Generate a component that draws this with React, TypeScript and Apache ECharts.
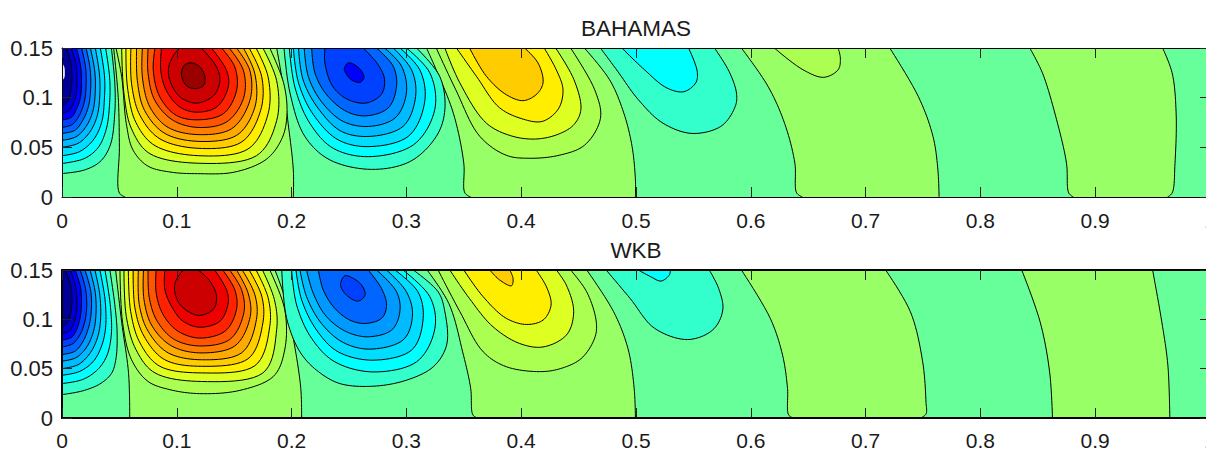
import React, { useEffect, useRef } from "react";
import * as echarts from "echarts";

type Pt = number[];
// All curve points are in thousandths of an axis unit: [x*1000, y*1000]

const xTicks = [0, 0.1, 0.2, 0.3, 0.4, 0.5, 0.6, 0.7, 0.8, 0.9, 1];
const yTicks = [0, 0.05, 0.1, 0.15];
const panelTitles = ["BAHAMAS", "WKB"];

const baseBackground = "#66ff99";
const baseBand = "#99ff66";
const positiveLevels = ["#aaff50", "#ddff22", "#ffee00", "#ffcc00", "#ffaa00", "#ff8000", "#ff5500", "#ff2200", "#ee0000", "#cc0000", "#990000"];
const negativeLevels = ["#33ffcc", "#00ffff", "#00ddff", "#00bbff", "#0099ff", "#0066ff", "#0040ff", "#0000ff", "#0000cc", "#000099"];

// ---------- BAHAMAS ----------
const bZero: Pt[][] = [
  [[55, 0], [50, 4], [50, 50], [49, 100], [45, 150]],
  [[201.5, 0], [201.5, 27], [197, 74], [192.8, 111], [187, 150]],
  [[356, 0], [351, 4], [350, 34], [341, 84], [326, 128], [317.5, 150]],
  [[499.5, 0], [499.5, 17], [496.6, 50.7], [489.4, 84.4], [477, 118], [455, 150]],
  [[645, 0], [640, 4], [638.4, 34], [629.5, 74], [615, 111.4], [591.8, 150]],
  [[764, 0], [763, 27], [758.7, 61], [746, 101], [721, 150]],
  [[881, 0], [877, 4], [875, 34], [866.4, 77.7], [854, 125], [843, 150]],
  [[963, 0], [967, 4], [969.5, 34], [970.5, 84.4], [967, 125], [958.7, 150]],
];
const bLeft: Pt[][] = [
  [[0, 23.6], [19, 27], [33, 35.4], [42, 52], [46, 85], [46, 115], [43, 150]],
  [[0, 33.7], [19, 38.5], [31, 49], [38.5, 68], [41.5, 95], [41.5, 120], [38, 150]],
  [[0, 41.5], [15, 45.5], [27, 57], [34.5, 75], [37, 100], [37, 122], [33.4, 150]],
  [[0, 50], [14, 54], [24, 65], [30.5, 81], [33, 104], [32.5, 125], [29, 150]],
  [[0, 57], [12, 60.5], [21, 71], [27, 87], [29, 107], [28.5, 127], [24.7, 150]],
  [[0, 64], [11, 67], [18, 77], [23, 91], [25, 110], [24.5, 129], [21, 150]],
  [[0, 70], [9, 73], [15, 82], [19.5, 96], [21, 113], [20.5, 131], [17, 150]],
  [[0, 77.6], [8, 80], [12.5, 88], [16, 100], [17, 116], [16, 133], [12.5, 150]],
  [[0, 84], [6, 87], [10, 94], [12.5, 105], [13, 120], [12, 135], [8, 150]],
  [[0, 92], [4, 95], [7, 103], [8.5, 115], [8.5, 127], [7, 138], [3.8, 150]],
];
const bRed: Pt[][] = [
  [[47, 150], [52, 121], [56, 74], [62, 47], [75, 31], [95, 25], [118, 23.5], [150, 25], [178, 38], [192, 60], [196, 85], [193, 115], [181, 150]],
  [[52, 150], [54, 104], [60.6, 68.5], [76.6, 43.6], [118.6, 34], [169.4, 41.6], [187, 77], [187, 117], [175, 150]],
  [[55.7, 150], [57, 110.7], [64.4, 75], [81, 51.7], [118.6, 41.6], [162, 48.3], [179.5, 83.7], [179.5, 121], [169, 150]],
  [[60, 150], [60.6, 114], [68, 82], [85.3, 58.5], [118.6, 49], [156, 55], [173, 87], [174, 121], [163, 150]],
  [[65, 150], [65.6, 117.4], [72, 87], [89.6, 64], [118.6, 56], [152, 62], [168, 90.5], [168, 124], [158, 150]],
  [[70, 150], [70, 120.8], [76.6, 90.5], [92.5, 70], [118.6, 62.8], [147.6, 68.6], [163.6, 97], [163.6, 127.5], [152, 150]],
  [[75, 150], [75, 124], [81, 97], [97, 77], [118.6, 70], [143, 75.3], [158, 99], [158, 127.5], [145.6, 150]],
  [[81, 150], [79.5, 127.5], [85.3, 100.6], [99.8, 82], [118.6, 77.7], [140.4, 83.7], [152, 107], [150.5, 131], [139, 150]],
  [[86.7, 150], [86, 127.5], [91, 107], [102.7, 90.5], [117, 85.4], [134.6, 90.5], [144.8, 110.7], [143.3, 127.5], [130.2, 150]],
  [[102.7, 150], [98, 144], [93, 131], [94, 117], [103, 100.6], [117, 94.5], [132, 102], [137.5, 117], [134.6, 131], [121.5, 150]],
];
const bRedCore: Pt[] = [[104, 124], [107, 133], [113, 135], [120, 131], [124.5, 121], [123, 112], [116, 109], [108.5, 112]];
const bBlue: Pt[][] = [
  [[193.4, 150], [198.6, 104.7], [211.6, 60.9], [233.4, 37.3], [269.6, 27.8], [303, 35.6], [326, 60.9], [333.5, 87.8], [329, 121.5], [308.8, 150]],
  [[198, 150], [203, 110], [216, 74], [236.3, 49], [266.7, 40.6], [306, 52.4], [324.7, 88], [320.4, 125], [300, 150]],
  [[201.5, 150], [206, 115], [219, 82.8], [240.6, 57.5], [266.7, 50.7], [301.5, 60.9], [316, 96.2], [311.7, 128], [294.3, 150]],
  [[206, 150], [210, 118], [223, 89.5], [243.5, 66], [268, 61], [297, 71], [308, 101], [304.5, 128], [288.5, 150]],
  [[211, 150], [214.5, 121.5], [226, 96], [245, 76], [267, 71], [290, 79.4], [300, 104.7], [295.8, 131.6], [281, 150]],
  [[217.5, 150], [220.3, 125], [230.5, 103], [248, 86], [265, 81.7], [284, 89.5], [291.4, 111.4], [288.5, 131.6], [274, 150]],
  [[229, 150], [229, 135], [236, 111], [249.3, 98], [265, 94.6], [278, 103], [281, 118], [275.5, 133], [262.4, 150]],
];
const bBlueCore: Pt[] = [[245.9, 129], [249.3, 135], [255, 133], [261, 126.6], [263, 120], [259.5, 115.4], [252, 118], [247, 125]];
const bYellow: Pt[][] = [
  [[326, 150], [343, 108], [364, 61], [387, 42], [407, 39], [433, 42], [455, 52], [469, 79], [464, 108], [443, 150]],
  [[333.5, 150], [346.5, 115], [370, 74], [393, 61], [414.6, 58.5], [434, 64], [446, 73], [452, 88], [446, 118], [430, 150]],
  [[343.6, 150], [361, 121.5], [381, 90], [400, 79], [418, 76], [432, 88], [436.4, 108], [430.6, 128], [420, 150]],
  [[355, 150], [369.7, 121.5], [387, 103], [401.6, 97], [413, 103], [419, 114.8], [414.6, 135], [403, 150]],
];
const bCyan: Pt[][] = [
  [[469, 150], [484, 126.6], [502, 98], [523.5, 74.3], [548.7, 64], [573.8, 71], [586.4, 91], [587.5, 104.7], [581, 126.6], [568.4, 150]],
  [[487.7, 150], [505.6, 130], [527, 109.7], [541.5, 106], [552, 114.8], [553.3, 126.6], [545.8, 150]],
];
const bSmall: Pt[][] = [[[620.5, 150], [645.6, 128], [663.5, 120.5], [676, 128], [678, 140], [676, 150]]];
const bEdgeMark: Pt[] = [[0, 135], [2, 131], [2.5, 125], [2, 120], [0, 117]];

// ---------- WKB ----------
const wZero: Pt[][] = [
  [[59, 0], [58, 45], [52, 97], [46.7, 150]],
  [[208.7, 0], [208, 30], [201.5, 80.6], [194.3, 121], [185.5, 150]],
  [[362, 0], [358, 3], [356, 30], [349, 67], [337, 116], [318, 150]],
  [[499.5, 0], [498.4, 30], [493, 70.4], [480.5, 107.7], [457.1, 150]],
  [[637, 0], [633, 3], [632, 30], [627.7, 63.6], [617, 100.9], [591.8, 150]],
  [[748, 0], [752.6, 4], [752.6, 16], [749.7, 57], [739, 107.7], [717.4, 150]],
  [[862.8, 0], [860.3, 46.7], [852, 97.5], [836, 150]],
  [[965, 0], [963.3, 53.5], [958, 97.5], [950, 150]],
];
const wLeft: Pt[][] = [
  [[0, 23.7], [18, 27.5], [33, 34.5], [43, 45], [47, 60], [48, 87], [46, 115], [41.7, 150]],
  [[0, 34.9], [18, 39], [31, 49], [39, 63], [43, 85], [42, 115], [37.4, 150]],
  [[0, 43.3], [15, 47], [27, 57], [34.5, 73], [38, 92], [37.5, 120], [33, 150]],
  [[0, 50], [14, 54], [24, 65], [30.5, 80], [33.5, 98], [33, 124], [28.7, 150]],
  [[0, 57.6], [12, 61], [21, 71], [27, 86], [29.5, 103], [29, 127], [24.4, 150]],
  [[0, 64.3], [11, 67.5], [18, 77], [23, 91], [25.5, 108], [25, 129], [20, 150]],
  [[0, 72], [9, 75], [15, 83], [19.5, 96], [21.5, 112], [20.5, 131], [15.8, 150]],
  [[0, 79], [8, 81.5], [12.5, 89], [15.5, 100], [17, 116], [16, 133], [11.5, 150]],
  [[0, 85.7], [6, 88], [10, 95], [12.5, 106], [13, 120], [11.5, 135], [7.2, 150]],
  [[0, 93.4], [4, 96], [7, 104], [8.5, 115], [8.5, 127], [6.5, 138], [3, 150]],
];
const wRed: Pt[][] = [
  [[50.5, 150], [52.8, 96.5], [60.6, 59], [75, 37], [94, 28.7], [120, 24.7], [155, 28], [184, 42], [194, 69], [194, 110], [181, 150]],
  [[54, 150], [56, 103], [64.4, 69.4], [81, 45.7], [121.5, 37], [175, 45.7], [187, 89.7], [185, 120], [174.6, 150]],
  [[57.8, 150], [59.8, 108], [68, 76], [85.3, 52.4], [121.5, 45.7], [168, 53], [181, 93], [179.5, 122], [169, 150]],
  [[62, 150], [63.5, 111.7], [71.4, 83], [89.6, 59], [121.5, 52.4], [162, 60], [175, 96.5], [174, 123.5], [163, 150]],
  [[66.5, 150], [67.3, 115], [75, 88], [92.5, 66], [121.5, 59], [156.4, 66], [169.4, 100], [168, 125], [157, 150]],
  [[71, 150], [71.4, 120], [78.6, 93], [95.5, 73], [120, 66], [150.5, 73], [164, 103], [162, 127], [152, 150]],
  [[75, 150], [76, 122], [83, 98], [98, 79.5], [120, 73], [146, 79.5], [158.4, 106.6], [156.4, 130], [146, 150]],
  [[82, 150], [82, 127], [88, 105], [101, 88], [120, 81], [142, 88], [152, 110], [150.5, 130], [140, 150]],
  [[89.6, 150], [89.6, 130], [97, 110], [105.6, 98], [120, 92], [137.5, 98], [144.8, 117], [143.3, 130], [133, 150]],
  [[105.6, 150], [99, 138.8], [98.4, 127], [104, 113.4], [118.7, 104], [131.7, 110], [134.6, 123.5], [128.8, 138.8], [118.7, 150]],
];
const wBlue: Pt[][] = [
  [[191.4, 150], [195.7, 100.9], [207.3, 67], [221.8, 48.4], [242, 34.9], [271, 32.2], [300, 38.3], [323.3, 51.8], [335, 73.8], [333.5, 107.7], [327.6, 128], [306, 150]],
  [[200, 150], [204.4, 114.4], [217.5, 80.6], [237.7, 56.9], [271, 46.7], [308.8, 56.9], [324.8, 90.7], [320.4, 123], [297, 150]],
  [[203.8, 150], [208.8, 119.5], [221.8, 89], [240.6, 67], [271, 58.6], [304.4, 68.7], [314.6, 100.9], [310, 128], [290, 150]],
  [[207.3, 150], [213, 123], [226, 95.8], [245, 76.5], [268, 69.8], [297, 79], [305.3, 104.3], [300, 128], [282.7, 150]],
  [[213, 150], [219, 126], [230.5, 102.6], [248, 87.3], [266.7, 82.3], [287, 89], [294.3, 107.7], [291.4, 128], [274, 150]],
  [[223.3, 150], [227.6, 129.7], [237.7, 111], [250.8, 99.2], [263.8, 95.8], [278.3, 100.9], [282.7, 114.4], [278.3, 131.3], [266.7, 150]],
];
const wBlueCore: Pt[] = [[242.7, 136.4], [246.5, 144.2], [253.7, 141.5], [261, 134.7], [264, 124.6], [258, 118.5], [249.4, 122.9], [243.5, 131.3]];
const wYellow: Pt[][] = [
  [[327.6, 150], [346.5, 108], [367, 67], [387, 52], [416, 47], [434, 50], [452, 60], [464, 81], [465.4, 97.5], [457, 128], [443, 150]],
  [[337.8, 150], [355, 121], [375.5, 92.4], [398.7, 75.5], [419, 72], [439.3, 84], [445.7, 107.7], [439.3, 134.7], [430.6, 150]],
  [[350, 150], [366.8, 123], [387, 101], [404.5, 94.8], [419, 99.2], [426, 114.4], [422, 133], [413, 150]],
  [[372.6, 150], [381.3, 139.8], [391.5, 134], [392.9, 141.5], [390, 150]],
];
const wCyan: Pt[][] = [
  [[474, 150], [495, 121], [516.4, 90.7], [545, 79.5], [566.6, 89], [575.6, 109.4], [572, 131.3], [563.8, 150]],
  [[502, 150], [512.8, 143.2], [521.8, 138.8], [529, 144.9], [530, 150]],
];

// ---------- helpers ----------
type Shape = { curve: Pt[]; fill: Pt[]; color: string; line: boolean };

function spline(pts: Pt[], closed: boolean): Pt[] {
  const n = pts.length;
  const at = (i: number) => (closed ? pts[((i % n) + n) % n] : pts[Math.max(0, Math.min(n - 1, i))]);
  const dist = (a: Pt, b: Pt) => Math.max(1e-3, Math.sqrt(Math.hypot(a[0] - b[0], a[1] - b[1])));
  const out: Pt[] = [];
  const segs = closed ? n : n - 1;
  for (let i = 0; i < segs; i++) {
    const p0 = at(i - 1), p1 = at(i), p2 = at(i + 1), p3 = at(i + 2);
    const d0 = dist(p0, p1), d1 = dist(p1, p2), d2 = dist(p2, p3);
    const tan = (a: Pt, b: Pt, c: Pt, da: number, db: number, k: number) => {
      const s1 = (b[k] - a[k]) / da, s2 = (c[k] - b[k]) / db, s3 = (c[k] - a[k]) / (da + db);
      return (s1 - s3 + s2) * d1;
    };
    const mx1 = tan(p0, p1, p2, d0, d1, 0), my1 = tan(p0, p1, p2, d0, d1, 1);
    const mx2 = tan(p1, p2, p3, d1, d2, 0), my2 = tan(p1, p2, p3, d1, d2, 1);
    for (let s = 0; s < 10; s++) {
      const t = s / 10, t2 = t * t, t3 = t2 * t;
      const a = 2 * t3 - 3 * t2 + 1, b = t3 - 2 * t2 + t, c = -2 * t3 + 3 * t2, d = t3 - t2;
      out.push([a * p1[0] + b * mx1 + c * p2[0] + d * mx2, a * p1[1] + b * my1 + c * p2[1] + d * my2]);
    }
  }
  out.push(closed ? out[0] : pts[n - 1]);
  return out;
}

function addFamily(list: Shape[], family: Pt[][], colors: string[], offset = 0) {
  family.forEach((c, i) => {
    const curve = spline(c, false);
    list.push({ curve, fill: curve, color: colors[i + offset], line: true });
  });
}
function addClosed(list: Shape[], c: Pt[], color: string) {
  const curve = spline(c, true);
  list.push({ curve, fill: curve, color, line: true });
}
function buildPanel(zero: Pt[][], left: Pt[][], groups: [Pt[][], number][], closed: [Pt[], number][], pos: boolean[]): Shape[] {
  const list: Shape[] = [];
  for (let i = 0; i + 1 < zero.length; i += 2) {
    const a = spline(zero[i], false), b = spline(zero[i + 1], false);
    list.push({ curve: a, fill: a.concat(b.slice().reverse()), color: baseBand, line: true });
    list.push({ curve: b, fill: [], color: baseBand, line: true });
  }
  left.forEach((c, i) => {
    const curve = spline(c, false);
    list.push({ curve, fill: curve.concat([[0, 150]]), color: negativeLevels[i], line: true });
  });
  groups.forEach(([fam, _o], g) => addFamily(list, fam, pos[g] ? positiveLevels : negativeLevels));
  closed.forEach(([c, lv]) => addClosed(list, c, lv >= 0 ? positiveLevels[lv] : negativeLevels[-lv]));
  return list;
}

const bShapes = buildPanel(
  bZero, bLeft,
  [[bRed, 0], [bBlue, 0], [bYellow, 0], [bCyan, 0], [bSmall, 0]],
  [[bRedCore, 10], [bBlueCore, -7]],
  [true, false, true, false, true]
);
bShapes.push({ curve: spline(bEdgeMark, false), fill: spline(bEdgeMark, false), color: "#e6e6e6", line: false });
const wShapes = buildPanel(
  wZero, wLeft,
  [[wRed, 0], [wBlue, 0], [wYellow, 0], [wCyan, 0]],
  [[wBlueCore, -6]],
  [true, false, true, false]
);

const FONT = "Liberation Sans";
const GRIDS = [
  { left: 62, top: 48, width: 1148, height: 149 },
  { left: 62, top: 270, width: 1148, height: 148 },
];

function axisPair(gridIndex: number, frameWidth: number, labelMargin: number) {
  const line = { show: true, onZero: false, lineStyle: { color: "#000", width: frameWidth } };
  const tick = { show: true, inside: true, length: 10, lineStyle: { color: "#222", width: 1 } };
  const xBase = { type: "value", gridIndex, min: 0, max: 1, interval: 0.1, splitLine: { show: false }, axisLine: line, axisTick: tick, z: 10 };
  const yBase = { type: "value", gridIndex, min: 0, max: 0.15, interval: 0.05, splitLine: { show: false }, axisLine: line, axisTick: tick, z: 10 };
  const labels = { show: true, color: "#1a1a1a", fontFamily: FONT, fontSize: 21 };
  return {
    x: [
      { ...xBase, position: "bottom", axisLabel: { ...labels, margin: labelMargin, showMaxLabel: true, hideOverlap: false, formatter: (v: number) => String(xTicks.find((t) => Math.abs(t - v) < 1e-6) ?? v) } },
      { ...xBase, position: "top", axisLabel: { show: false } },
    ],
    y: [
      { ...yBase, position: "left", axisLabel: { ...labels, fontSize: 22, margin: 9, formatter: (v: number) => String(yTicks.find((t) => Math.abs(t - v) < 1e-6) ?? v) } },
      { ...yBase, position: "right", axisLabel: { show: false } },
    ],
  };
}

function contourSeries(shapes: Shape[], xAxisIndex: number, yAxisIndex: number) {
  return {
    type: "custom",
    xAxisIndex,
    yAxisIndex,
    clip: true,
    silent: true,
    z: 2,
    encode: { x: 0, y: 1 },
    data: shapes.map((s) => [s.curve[0][0] / 1000, s.curve[0][1] / 1000]),
    renderItem: (params: any, api: any) => {
      const s = shapes[params.dataIndex];
      const toPx = (p: Pt) => api.coord([p[0] / 1000, p[1] / 1000]);
      const children: any[] = [];
      if (s.fill.length) {
        children.push({ type: "polygon", shape: { points: s.fill.map(toPx) }, style: { fill: s.color, stroke: "none" } });
      }
      if (s.line) {
        children.push({ type: "polyline", shape: { points: s.curve.map(toPx) }, style: { fill: "none", stroke: "#000", lineWidth: 1 } });
      }
      return { type: "group", children };
    },
  };
}

export default function App() {
  const ref = useRef<HTMLDivElement>(null);
  useEffect(() => {
    const chart = echarts.init(ref.current!, undefined, { renderer: "svg" });
    const a = axisPair(0, 1, 13);
    const b = axisPair(1, 2, 12);
    chart.setOption({
      animation: false,
      backgroundColor: "#fff",
      title: [
        { text: panelTitles[0], left: 631, top: 12, textAlign: "center", textStyle: { fontFamily: FONT, fontSize: 22.5, fontWeight: "normal", color: "#1a1a1a" } },
        { text: panelTitles[1], left: 631, top: 234, textAlign: "center", textStyle: { fontFamily: FONT, fontSize: 22.5, fontWeight: "normal", color: "#1a1a1a" } },
      ],
      grid: GRIDS.map((g) => ({ ...g, show: true, backgroundColor: baseBackground, borderWidth: 0, outerBoundsMode: "none", containLabel: false })),
      xAxis: [...a.x, ...b.x],
      yAxis: [...a.y, ...b.y],
      series: [contourSeries(bShapes, 0, 0), contourSeries(wShapes, 2, 2)],
    });
    return () => chart.dispose();
  }, []);
  return <div ref={ref} style={{ position: "absolute", left: 0, top: 0, width: 1206, height: 451 }} />;
}
